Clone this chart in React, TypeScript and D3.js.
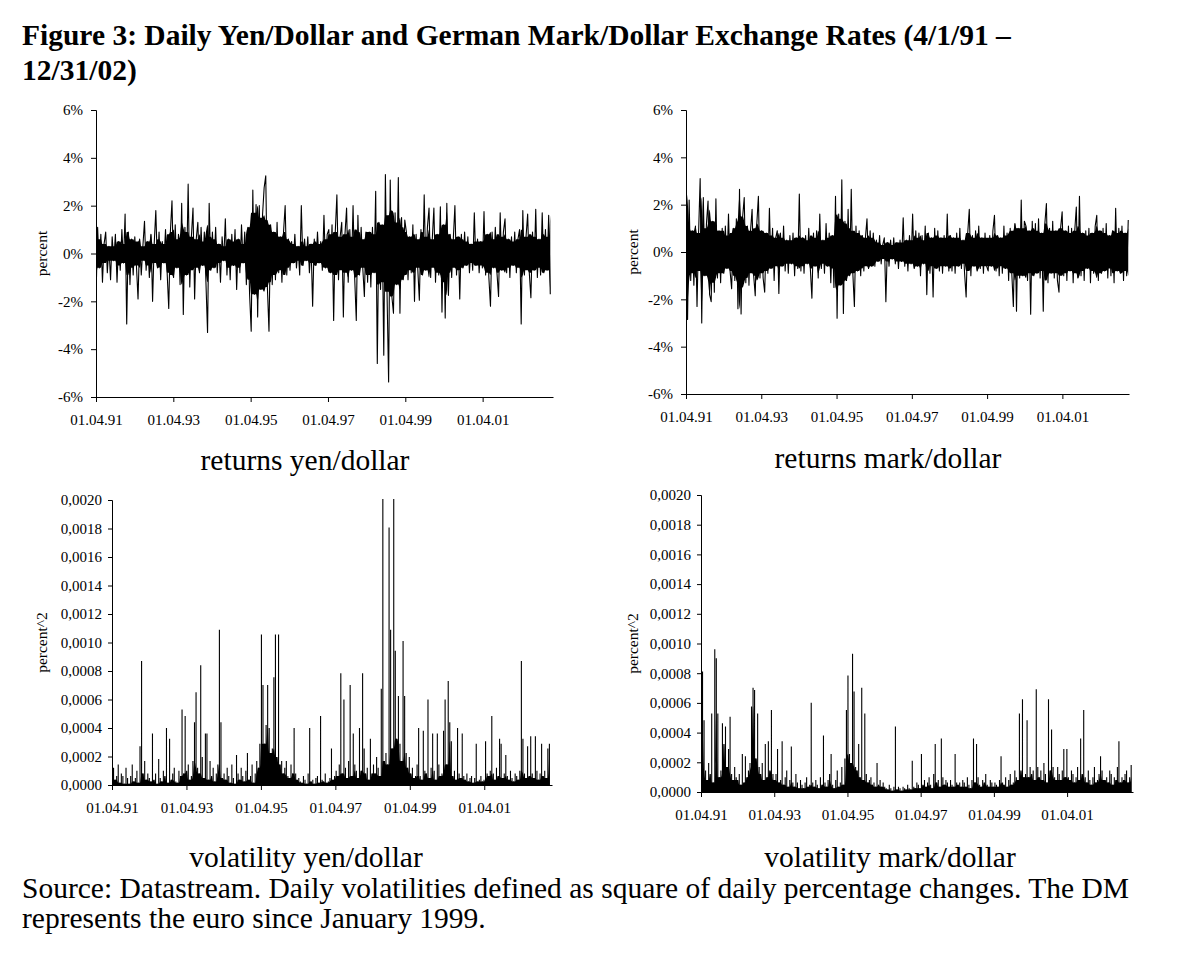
import React, { useEffect, useRef } from 'react';
import * as d3 from 'd3';

// x axis: years after 01.04.91, labelled every two years
const tickYears = [0, 2, 4, 6, 8, 10];
const tickDates = ['01.04.91', '01.04.93', '01.04.95', '01.04.97', '01.04.99', '01.04.01'];
const returnTicks = [-6, -4, -2, 0, 2, 4, 6];
const volTicks = [0, 0.0002, 0.0004, 0.0006, 0.0008, 0.001, 0.0012, 0.0014, 0.0016, 0.0018, 0.002];

const yenReturns = [
  -1.9, 1.1, -0.6, 0.8, -1.2, 0.4, 0.9, -0.8, 0.3, -1.1, 0.7, -0.3, 0.8, -1.2, 0.5, -0.7, 1.0, -0.4, 1.65, -2.95, 0.9, -1.3, 0.6, -0.9,
  0.7, -0.5, -1.9, 0.6, -0.9, 0.3, 1.35, -0.7, 0.5, -1.0, 0.8, -2.0, 0.4, 1.8, -0.6, 0.9, -1.1, 0.5, -0.4, 1.0, -0.8, -2.3, 0.9, 2.2,
  -1.0, 1.2, -0.6, 0.8, -1.3, 2.1, -2.55, 1.1, -0.9, 2.9, -1.4, 0.7, 1.9, -1.9, 0.6, 1.3, -0.8, 1.1, -0.5, 0.9, -1.2, -3.3, 2.1, -0.7,
  0.9, -0.6, 1.1, -0.8, 0.4, -1.2, 0.7, -0.3, 1.45, -0.9, 0.6, -1.1, 0.8, -0.5, 1.0, -1.5, 0.6, -0.8, 1.2, -0.4, 0.9, -1.3, 1.1, -1.7,
  -3.25, 2.65, -1.7, 2.05, -2.65, 2.0, -1.5, 1.6, 2.75, 3.25, -1.4, -3.25, 1.2, -1.3, 0.9, -1.1, 1.3, -0.8, 0.7, -1.2, 0.9, 2.0, -0.9, 0.6,
  -0.7, 0.5, -0.4, 0.8, -0.6, 0.3, -0.9, 2.0, -0.5, 0.6, -0.3, 0.7, -0.8, 0.4, -2.2, 0.6, -0.5, 0.9, -0.4, 0.5, -0.7, 1.6, -0.6, 0.8,
  1.0, -0.8, 1.2, -2.8, 0.9, 2.45, -1.1, 0.7, 1.3, -2.65, 0.8, 1.9, -1.2, 1.0, -0.7, 2.0, -1.0, -2.8, 1.6, -0.9, 1.1, -0.6, -1.8, 0.9,
  -1.2, 0.9, -1.4, 1.1, -0.8, 2.6, -4.6, 1.3, -1.5, 1.2, -4.25, 3.3, -1.6, -5.37, 3.07, -1.8, -2.5, 1.7, -1.3, 3.18, -2.5, 1.5, -1.1, 1.4,
  0.9, -1.1, 0.7, -0.8, 1.2, -2.0, 0.8, -0.6, -1.95, 1.0, -0.9, 2.45, -0.7, 1.1, 1.9, -1.0, 0.6, 1.9, -1.2, 0.8, -0.9, 1.95, -2.45, 1.2,
  -2.7, 2.1, -1.75, 0.8, -1.0, 0.6, 2.0, -0.9, 0.7, -1.9, 0.8, -0.6, 0.9, -0.5, 0.7, -0.8, 0.4, -0.7, 1.7, -0.5, 0.6, -0.8, 0.5, -0.6,
  1.75, -0.9, 0.8, -1.0, -2.2, 0.9, -0.6, 1.1, -0.8, -1.8, 1.7, -0.7, 0.9, 1.45, -0.8, 0.6, -1.0, 0.7, -0.5, 0.9, -0.8, 0.6, 1.0, -2.95,
  1.8, -0.9, 0.7, 1.65, -0.8, -1.85, 0.9, -0.7, 1.85, -1.0, 0.6, -0.9, 1.7, -0.8, 1.0, -0.7, 1.6, -1.7,
];

const markReturns = [
  2.7, -2.85, 2.2, -1.2, 0.9, -1.4, 1.1, -2.3, 0.8, 3.1, -3.0, 2.3, -1.0, 1.2, 2.15, -1.8, -2.1, 1.3, -1.7, 2.25, -1.1, 0.9, -1.3, 1.0,
  -0.9, 1.1, -0.7, 1.6, -0.8, -1.55, 1.0, -1.2, 1.4, -2.4, 2.65, -2.62, 1.5, 2.3, -1.3, 1.1, -1.4, 0.9, 1.8, -1.0, -1.85, 1.2, 2.35, -1.1,
  0.9, -1.1, -1.7, 0.8, -0.9, 1.85, -0.7, 1.0, -1.2, 0.6, 0.9, -1.75, 0.8, -0.6, 1.1, -0.8, 0.5, -0.9, 0.7, -0.5, 0.8, -1.0, 0.6, -0.7,
  2.45, -0.8, 0.6, -0.9, 0.7, -0.5, 1.0, -0.7, -1.95, 0.8, -0.6, 0.9, -1.1, 1.6, -0.7, 0.5, -0.9, 1.2, -0.6, 0.8, -1.3, 0.7, -1.5, 2.35,
  -2.8, 1.6, -1.4, 3.05, -2.6, 1.3, -1.2, 1.8, -1.0, 2.65, -0.9, -2.3, 1.1, -0.8, 0.9, -1.0, 0.7, -0.8, 0.6, 1.4, -0.7, 0.9, -0.6, 0.8,
  -0.6, 0.5, -0.4, 0.7, -0.5, 0.3, 0.6, -2.1, 0.4, -0.6, 0.5, -0.3, 0.6, -0.5, 0.4, -0.7, 0.5, -0.4, 1.45, -0.6, 0.5, -0.8, 0.7, -0.5,
  1.6, -0.7, 0.9, -0.6, 0.8, -1.0, 0.7, -0.5, 1.1, -1.8, 0.8, -0.9, 0.6, -1.9, 1.0, -0.7, 0.9, -0.8, 0.6, -0.9, 0.7, -0.6, 1.6, -0.8,
  0.7, -0.8, 0.6, -0.9, 0.8, -0.6, 1.0, -0.7, 0.5, -0.9, -1.9, 0.8, 1.8, -1.0, 0.7, -0.6, 0.9, -0.8, 1.1, -0.7, 0.6, -0.9, 0.8, -0.6,
  -0.8, 0.7, -0.6, 0.9, 1.55, -0.8, 0.7, -1.0, 0.6, -0.9, 1.1, -0.7, 0.8, -1.2, 1.0, -0.9, -2.3, 1.2, -2.5, 1.0, -1.1, 2.2, -1.0, 1.3,
  1.1, -1.2, 0.9, -2.63, 1.3, -1.0, 1.2, -0.9, 1.4, -1.1, 0.8, -2.5, 1.2, 2.05, -1.3, 1.0, -0.9, 1.3, -1.1, 0.9, -1.2, -1.7, 1.0, 1.7,
  -1.0, 0.9, -1.2, 1.1, -0.8, 1.0, -1.3, 0.9, 1.9, -1.1, 2.35, -1.0, 0.8, -1.2, 0.9, -0.7, 1.0, -1.3, 0.8, -0.9, 1.1, 1.55, -1.2, 0.9,
  -0.9, 1.0, -0.8, 1.2, -1.1, 0.7, -1.0, 0.9, -1.3, 1.85, -0.8, 1.0, -0.9, 1.1, -1.2, 0.8, -1.0, 1.35,
];

// volatility = square of the daily percentage change (as in the source note)
const toVol = (r: number) => (r / 100) * (r / 100);

const FONT = '"Liberation Serif", "Times New Roman", Times, serif';

interface Panel {
  values: number[];
  kind: 'ret' | 'vol';
  left: number;
  right: number;
  span: number;
  top: number;
  bottom: number;
  titleX: number;
  caption: string;
  captionX: number;
  captionY: number;
}

const panels: Panel[] = [
  { values: yenReturns, kind: 'ret', left: 96, right: 553, span: 11.82, top: 110, bottom: 397, titleX: 47, caption: 'returns yen/dollar', captionX: 305, captionY: 470 },
  { values: markReturns, kind: 'ret', left: 686, right: 1129, span: 11.77, top: 110, bottom: 394, titleX: 638, caption: 'returns mark/dollar', captionX: 888, captionY: 468 },
  { values: yenReturns.map(toVol), kind: 'vol', left: 112, right: 552, span: 11.82, top: 500, bottom: 785, titleX: 47, caption: 'volatility yen/dollar', captionX: 306, captionY: 867 },
  { values: markReturns.map(toVol), kind: 'vol', left: 701, right: 1133, span: 11.8, top: 495, bottom: 792, titleX: 638, caption: 'volatility mark/dollar', captionX: 890, captionY: 867 },
];

// smallest absolute move around each sample: the part of the band the daily line fills solid
const coreOf = (vals: number[]) =>
  vals.map((_, i) => d3.min(vals.slice(Math.max(0, i - 1), i + 2), v => Math.abs(v)) ?? 0);

const App: React.FC = () => {
  const svgRef = useRef<SVGSVGElement>(null);

  useEffect(() => {
    const svg = d3.select(svgRef.current);
    svg.selectAll('*').remove();

    svg.append('rect').attr('width', 1189).attr('height', 968).attr('fill', '#fff');

    // heading
    const head = svg.append('text')
      .attr('font-family', FONT)
      .attr('font-weight', 'bold')
      .attr('font-size', 29.5)
      .attr('fill', '#000');
    head.append('tspan').attr('x', 22).attr('y', 45)
      .text('Figure 3: Daily Yen/Dollar and German Mark/Dollar Exchange Rates (4/1/91 \u2013');
    head.append('tspan').attr('x', 22).attr('y', 80).text('12/31/02)');

    panels.forEach((p, pi) => {
      const g = svg.append('g');
      const n = p.values.length;
      const dataEnd = 11.75;
      const t = (i: number) => (i * dataEnd) / (n - 1);
      const core = coreOf(p.values);

      const x = d3.scaleLinear().domain([0, p.span]).range([p.left, p.right]);
      const y = p.kind === 'ret'
        ? d3.scaleLinear().domain([-6, 6]).range([p.bottom, p.top])
        : d3.scaleLinear().domain([0, 0.002]).range([p.bottom, p.top]);

      const clipId = `clip-${pi}`;
      svg.append('clipPath').attr('id', clipId)
        .append('rect')
        .attr('x', p.left).attr('y', p.top - 1)
        .attr('width', p.right - p.left).attr('height', p.bottom - p.top + 1);

      const plot = g.append('g').attr('clip-path', `url(#${clipId})`);

      // solid inner band
      const band = d3.area<number>()
        .x((_, i) => x(t(i)))
        .y0(d => (p.kind === 'ret' ? y(-d) : y(0)))
        .y1(d => y(d))
        .curve(d3.curveMonotoneX);

      plot.append('path')
        .datum(core)
        .attr('d', band)
        .attr('fill', '#000');

      if (p.kind === 'ret') {
        const line = d3.line<number>()
          .x((_, i) => x(t(i)))
          .y(d => y(d));

        plot.append('path')
          .datum(p.values)
          .attr('d', line)
          .attr('fill', 'none')
          .attr('stroke', '#000')
          .attr('stroke-width', 1.1)
          .attr('stroke-linejoin', 'round');
      } else {
        // squared changes drop back to ~0 between the spikes
        const pts: [number, number][] = [];
        p.values.forEach((v, i) => {
          pts.push([t(i), 0], [t(i), v], [t(i), 0]);
        });
        const line = d3.line<[number, number]>()
          .x(d => x(d[0]))
          .y(d => y(d[1]));

        plot.append('path')
          .datum(pts)
          .attr('d', line)
          .attr('fill', 'none')
          .attr('stroke', '#000')
          .attr('stroke-width', 1.1);
      }

      // y axis
      const yAxis = p.kind === 'ret'
        ? d3.axisLeft(y).tickValues(returnTicks).tickSize(5).tickSizeOuter(5).tickPadding(8)
            .tickFormat((d: any) => `${d}%`)
        : d3.axisLeft(y).tickValues(volTicks).tickSize(4).tickSizeOuter(4).tickPadding(6)
            .tickFormat((d: any) => d3.format('.4f')(d).replace('.', ','));

      const ya = g.append('g').attr('transform', `translate(${p.left},0)`).call(yAxis as any);

      // x axis
      const xAxis = d3.axisBottom(x)
        .tickValues(tickYears)
        .tickSize(5)
        .tickSizeOuter(0)
        .tickPadding(12)
        .tickFormat((_: any, i: number) => tickDates[i]);

      const xa = g.append('g').attr('transform', `translate(0,${p.bottom})`).call(xAxis as any);

      [ya, xa].forEach(a => {
        a.select('.domain').attr('stroke', '#000').attr('stroke-width', 1);
        a.selectAll('.tick line').attr('stroke', '#000').attr('stroke-width', 1);
        a.selectAll('text')
          .attr('fill', '#000')
          .style('font-family', FONT)
          .style('font-size', '15px');
      });

      // axis title
      const cy = (p.top + p.bottom) / 2;
      g.append('text')
        .attr('transform', `translate(${p.titleX},${cy}) rotate(-90)`)
        .attr('text-anchor', 'middle')
        .attr('font-family', FONT)
        .attr('font-size', 15.5)
        .attr('fill', '#000')
        .text(p.kind === 'ret' ? 'percent' : 'percent^2');

      // caption under panel
      g.append('text')
        .attr('x', p.captionX)
        .attr('y', p.captionY)
        .attr('text-anchor', 'middle')
        .attr('font-family', FONT)
        .attr('font-size', 29.5)
        .attr('fill', '#000')
        .text(p.caption);
    });

    const note = svg.append('text')
      .attr('font-family', FONT)
      .attr('font-size', 29.5)
      .attr('fill', '#000');
    note.append('tspan').attr('x', 22).attr('y', 898)
      .text('Source: Datastream. Daily volatilities defined as square of daily percentage changes. The DM');
    note.append('tspan').attr('x', 22).attr('y', 928)
      .text('represents the euro since January 1999.');
  }, []);

  return (
    <svg
      ref={svgRef}
      width={1189}
      height={968}
      style={{ position: 'absolute', left: 0, top: 0, display: 'block' }}
    />
  );
};

export default App;
